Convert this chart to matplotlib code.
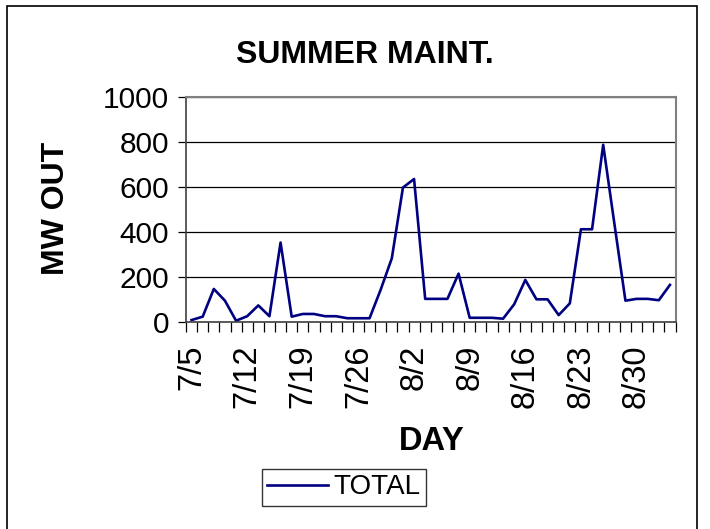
import matplotlib
matplotlib.use("Agg")
import matplotlib.pyplot as plt
import numpy as np
import pandas as pd
from matplotlib.patches import Rectangle

plt.rcParams['font.family'] = ['Liberation Sans', 'DejaVu Sans']

# business days starting 7/5
days = pd.bdate_range("1999-07-05", periods=44)
day_labels = [f"{d.month}/{d.day}" for d in days]

total = [10, 25, 148, 96, 7, 27, 75, 27, 354, 25,
         37, 37, 27, 27, 18, 18, 18, 145, 284, 598,
         636, 104, 104, 104, 216, 20, 20, 20, 16, 80,
         188, 102, 102, 32, 84, 413, 413, 788, 440, 96,
         104, 104, 98, 166]

W, H = 710, 529
fig = plt.figure(figsize=(W / 100, H / 100), dpi=100)
ax = fig.add_axes([186 / W, 1 - 322.3 / H, (675.5 - 186) / W, (322.3 - 97) / H])

x = np.arange(len(total))
ax.plot(x, total, color='#000080', linewidth=1.9, label='TOTAL')

ax.set_xlim(-0.5, len(total) - 0.5)
ax.set_ylim(0, 1000)
ax.set_yticks(np.arange(0, 1001, 200))
ax.yaxis.grid(True, color='black', linewidth=0.9)
ax.set_axisbelow(True)
ax.tick_params(axis='y', labelsize=21.5, length=6, width=0.9, pad=6)

# category boundary ticks, labels every 5th day
ax.set_xticks(np.arange(len(total) + 1) - 0.5)
ax.set_xticklabels([])
ax.tick_params(axis='x', which='major', length=7, width=0.9)
lab_idx = np.arange(0, len(total), 5)
ax.set_xticks(lab_idx, minor=True)
ax.set_xticklabels([day_labels[i] for i in lab_idx], minor=True, rotation=90)
ax.tick_params(axis='x', which='minor', length=0, labelsize=23.5, pad=16)

for s in ['top', 'right']:
    ax.spines[s].set_color('#808080')
    ax.spines[s].set_linewidth(1.5)
ax.spines['left'].set_color('#404040')
ax.spines['left'].set_linewidth(1.2)
ax.spines['bottom'].set_color('#404040')
ax.spines['bottom'].set_linewidth(1.2)

fig.text(365 / W, 1 - 55 / H, 'SUMMER MAINT.', fontsize=23, fontweight='bold',
         ha='center', va='center')
fig.text(56 / W, 1 - 208 / H, 'MW OUT', fontsize=23, fontweight='bold',
         rotation=90, ha='center', va='center')
fig.text(432 / W, 1 - 442 / H, 'DAY', fontsize=23.5, fontweight='bold',
         ha='center', va='center')

leg = fig.legend(loc='center', bbox_to_anchor=(344 / W, 1 - 487.5 / H),
                 fontsize=20, frameon=True, fancybox=False, shadow=False,
                 handlelength=2.2, handletextpad=0.2, borderpad=0.2,
                 borderaxespad=0)
leg.get_frame().set_edgecolor('black')
leg.get_frame().set_linewidth(1.0)

fig.patches.append(Rectangle((7 / W, -0.02), (697 - 7) / W, 1.02 - 6 / H,
                             transform=fig.transFigure, fill=False,
                             edgecolor='black', linewidth=1.2))

fig.savefig('out.png', dpi=100)
